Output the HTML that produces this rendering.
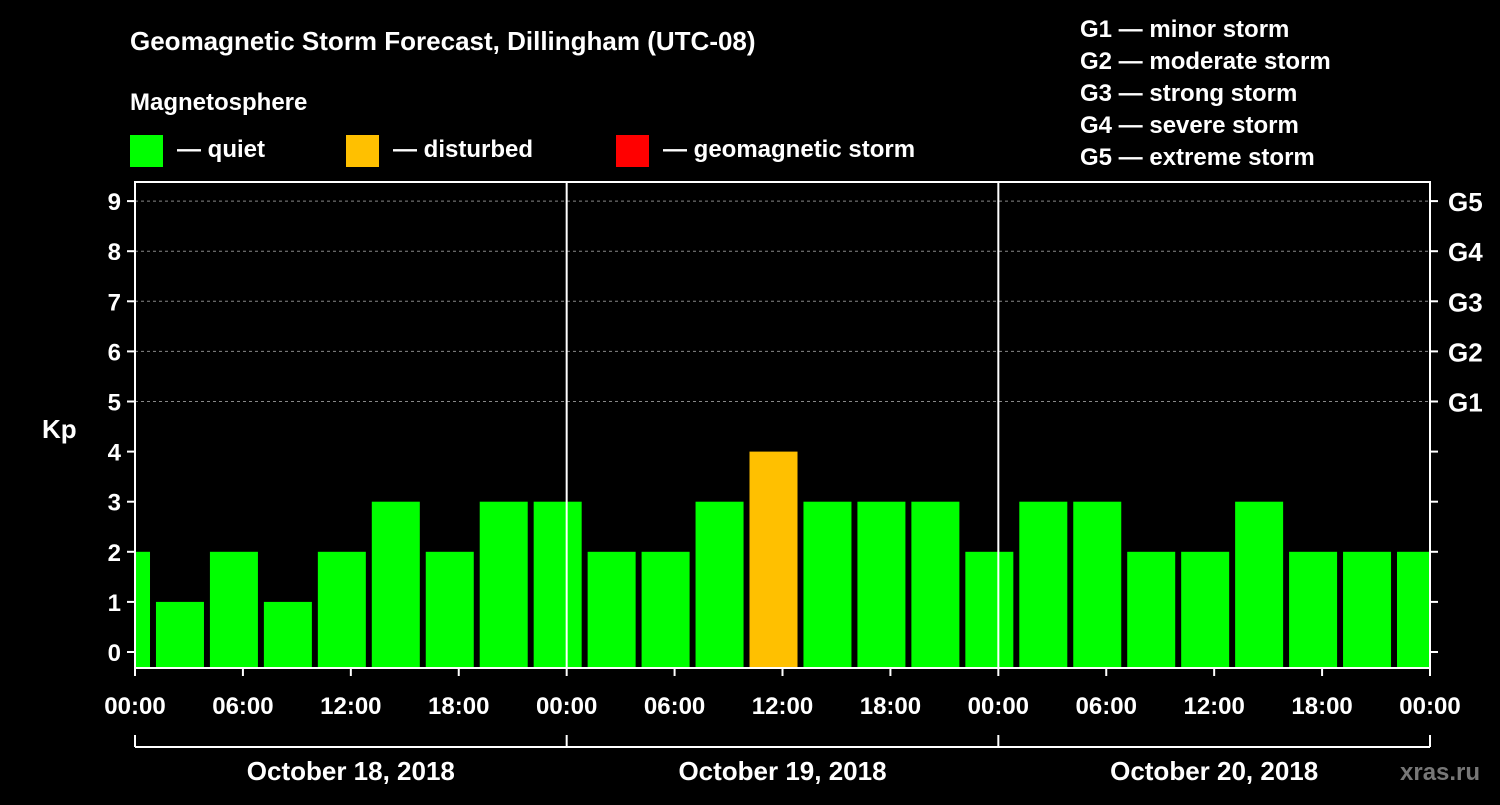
<!DOCTYPE html>
<html><head><meta charset="utf-8"><style>
body{margin:0;background:#000;width:1500px;height:800px;overflow:hidden}
svg text{font-family:"Liberation Sans",Arial,sans-serif;font-weight:bold;fill:#fff}
</style></head><body>
<svg id="c" width="1500" height="800" xmlns="http://www.w3.org/2000/svg">
<text x="130" y="50" font-size="26">Geomagnetic Storm Forecast, Dillingham (UTC-08)</text>
<text x="130" y="110" font-size="24">Magnetosphere</text>
<g><rect x="130" y="135" width="33" height="32" fill="#00ff00"/><text x="177" y="157" font-size="24">— quiet</text></g>
<g><rect x="346" y="135" width="33" height="32" fill="#ffc000"/><text x="393" y="157" font-size="24">— disturbed</text></g>
<g><rect x="616" y="135" width="33" height="32" fill="#ff0000"/><text x="663" y="157" font-size="24">— geomagnetic storm</text></g>
<g font-size="24">
<text x="1080" y="37">G1 — minor storm</text><text x="1080" y="69">G2 — moderate storm</text><text x="1080" y="101">G3 — strong storm</text><text x="1080" y="133">G4 — severe storm</text><text x="1080" y="165">G5 — extreme storm</text></g>
<text x="42" y="438" font-size="26">Kp</text>
<text x="1400" y="780" font-size="24" fill="#888" style="fill:#777">xras.ru</text>
<g id="grid"></g><g id="bars"></g><g id="axes"></g>
</svg>
<script>
const values=[2,1,2,1,2,3,2,3,3,2,2,3,4,3,3,3,2,3,3,2,2,3,2,2,2];
const kpTicks=[0,1,2,3,4,5,6,7,8,9];
const gLabels=["G1","G2","G3","G4","G5"];
const hourLabels=["00:00","06:00","12:00","18:00","00:00","06:00","12:00","18:00","00:00","06:00","12:00","18:00","00:00"];
const dayLabels=["October 18, 2018","October 19, 2018","October 20, 2018"];
const L=135,R=1430,T=182,B=668;
const x=h=>L+h*(R-L)/72;
const y=v=>652-v*50.1;
const NS="http://www.w3.org/2000/svg";
function mk(p,t,a){const e=document.createElementNS(NS,t);for(const k in a)e.setAttribute(k,a[k]);p.appendChild(e);return e;}
const grid=document.getElementById('grid'),bars=document.getElementById('bars'),axes=document.getElementById('axes');
kpTicks.forEach(v=>{if(v>=5){const g=mk(grid,'line',{x1:L,x2:R,y1:y(v),y2:y(v),stroke:'#888','stroke-dasharray':'3,3'});

}});
values.forEach((v,i)=>{const c=3*i-0.5;let x0=Math.max(L,x(c)-24),x1=Math.min(R,x(c)+24);
const col=v>=5?'#ff0000':v>=4?'#ffc000':'#00ff00';
const r=mk(bars,'rect',{x:x0,y:y(v),width:x1-x0,height:B-y(v),fill:col});

});
[24,48].forEach(h=>{const l=mk(axes,'line',{x1:x(h),x2:x(h),y1:T,y2:B,stroke:'#fff','stroke-width':2});

});
const f=mk(axes,'rect',{x:L,y:T,width:R-L,height:B-T,fill:'none',stroke:'#fff','stroke-width':2});


kpTicks.forEach(v=>{mk(axes,'line',{x1:L-8,x2:L,y1:y(v),y2:y(v),stroke:'#fff','stroke-width':2});
mk(axes,'line',{x1:R,x2:R+8,y1:y(v),y2:y(v),stroke:'#fff','stroke-width':2});
const t=mk(axes,'text',{x:L-14,y:y(v)+9,'font-size':24,'text-anchor':'end'});t.textContent=v;


if(v>=5){const g=mk(axes,'text',{x:R+18,y:y(v)+10,'font-size':26});g.textContent=gLabels[v-5];

}});
hourLabels.forEach((s,i)=>{const h=i*6;mk(axes,'line',{x1:x(h),x2:x(h),y1:B,y2:B+8,stroke:'#fff','stroke-width':2});
const t=mk(axes,'text',{x:x(h),y:714,'font-size':24,'text-anchor':'middle'});t.textContent=s;

});
mk(axes,'line',{x1:L,x2:R,y1:747,y2:747,stroke:'#fff','stroke-width':2});
[0,24,48,72].forEach(h=>mk(axes,'line',{x1:x(h),x2:x(h),y1:735,y2:747,stroke:'#fff','stroke-width':2}));
dayLabels.forEach((s,i)=>{const t=mk(axes,'text',{x:x(i*24+12),y:780,'font-size':26,'text-anchor':'middle'});t.textContent=s;

});
</script>
</body></html>
